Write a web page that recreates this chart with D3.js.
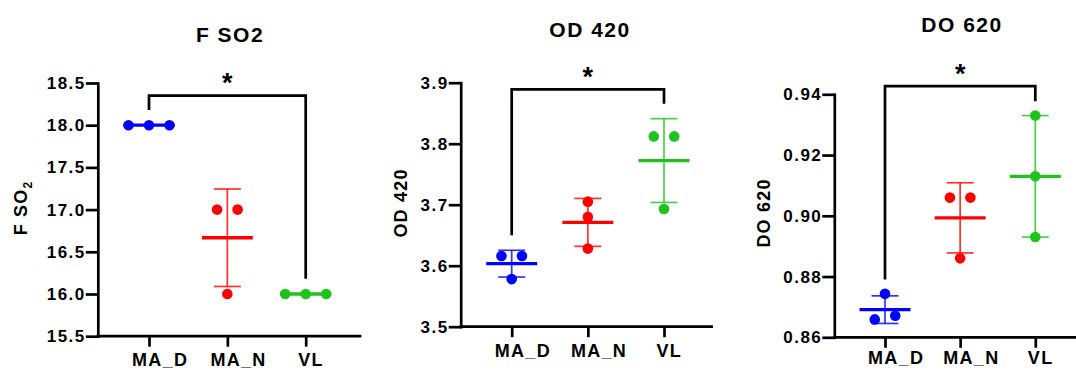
<!DOCTYPE html>
<html>
<head>
<meta charset="utf-8">
<script src="https://cdn.jsdelivr.net/npm/d3@7"></script>
<style>
  body { margin: 0; background: #fff; }
  svg { display: block; font-family: "Liberation Sans", Arial, sans-serif; }
</style>
</head>
<body>
<div class="chart"></div>
<script>
// data
const categories = ["MA_D", "MA_N", "VL"];
const groupColors = ["#0000ff", "#ff0000", "#1fc21f"];

const fso2Values = [[18, 18, 18], [17, 17, 16], [16, 16, 16]];
const od420Values = [[3.616, 3.616, 3.578], [3.705, 3.680, 3.628], [3.812, 3.812, 3.693]];
const do620Values = [[0.8743, 0.8659, 0.8671], [0.906, 0.906, 0.886], [0.933, 0.913, 0.893]];

const fso2Ticks = [15.5, 16, 16.5, 17, 17.5, 18, 18.5];
const od420Ticks = [3.5, 3.6, 3.7, 3.8, 3.9];
const do620Ticks = [0.86, 0.88, 0.90, 0.92, 0.94];

const fso2Bracket = { from: "MA_D", to: "VL", top: 18.35, label: "*" };
const od420Bracket = { from: "MA_D", to: "VL", top: 3.889, label: "*" };
const do620Bracket = { from: "MA_D", to: "VL", top: 0.9427, label: "*" };

// layout of the three panels
const panels = [
  { title: "F SO2", yTitle: ["F SO", "2"], values: fso2Values, ticks: fso2Ticks, fmt: ".1f", bracket: fso2Bracket,
    axisX: 97.8, xFirst: 149, xLast: 305.7, xRight: 360, yTop: 83, yBottom: 336.2, xPad: 7,
    titleX: 230, titleY: 41.7, yTitleX: 27, yTitleY: 208, gap: 10 },
  { title: "OD 420", yTitle: ["OD 420"], values: od420Values, ticks: od420Ticks, fmt: ".1f", bracket: od420Bracket,
    axisX: 460.7, xFirst: 511.7, xLast: 664, xRight: 711.7, yTop: 82.7, yBottom: 326.7, xPad: 7,
    titleX: 590, titleY: 36.7, yTitleX: 406.5, yTitleY: 203, gap: 15 },
  { title: "DO 620", yTitle: ["DO 620"], values: do620Values, ticks: do620Ticks, fmt: ".2f", bracket: do620Bracket,
    axisX: 834.3, xFirst: 885, xLast: 1035.3, xRight: 1076, yTop: 94.3, yBottom: 337.3, xPad: 3.5,
    titleX: 962, titleY: 32.3, yTitleX: 770, yTitleY: 213, gap: 9 }
];

const w = 1076, h = 370, r = 5.3, pitch = 20.5;

const svg = d3.select(".chart").append("svg").attr("width", w).attr("height", h);

panels.forEach(p => {
  const g = svg.append("g");
  const y = d3.scaleLinear().domain(d3.extent(p.ticks)).range([p.yBottom, p.yTop]);
  const x = d3.scalePoint().domain(categories).range([p.xFirst, p.xLast]);

  // title
  g.append("text")
    .attr("x", p.titleX).attr("y", p.titleY)
    .attr("text-anchor", "middle")
    .style("font-weight", "bold").style("font-size", "21px").style("letter-spacing", "1.5px")
    .text(p.title);

  // y title
  const yt = g.append("text")
    .attr("transform", "translate(" + p.yTitleX + "," + p.yTitleY + ") rotate(-90)")
    .attr("text-anchor", "middle")
    .style("font-weight", "bold").style("font-size", "18px").style("letter-spacing", "1.2px");
  yt.append("tspan").text(p.yTitle[0]);
  if (p.yTitle[1]) {
    yt.append("tspan").attr("dy", 5).style("font-size", "12px").text(p.yTitle[1]);
  }

  // y axis
  const yAxis = g.append("g")
    .attr("transform", "translate(" + p.axisX + ",0)")
    .call(d3.axisLeft(y).tickValues(p.ticks).tickFormat(d3.format(p.fmt)).tickSize(12).tickSizeOuter(0).tickPadding(0));
  yAxis.select(".domain").attr("stroke-width", 2.7).attr("stroke-linecap", "square");
  yAxis.selectAll(".tick line").attr("stroke-width", 2.7);
  yAxis.selectAll(".tick text")
    .style("font-size", "17px").style("font-weight", "bold").style("letter-spacing", "1.5px")
    .attr("fill", "#000");

  // x axis
  const xAxis = g.append("g")
    .attr("transform", "translate(0," + p.yBottom + ")")
    .call(d3.axisBottom(x).tickSize(10.5).tickPadding(p.xPad));
  xAxis.select(".domain").remove();
  xAxis.selectAll(".tick line").attr("stroke-width", 2.7);
  xAxis.selectAll(".tick text")
    .style("font-size", "18px").style("font-weight", "bold").style("letter-spacing", "1.3px")
    .attr("fill", "#000")
    .attr("dx", function () { return 0.19 * this.getComputedTextLength(); });
  xAxis.append("line")
    .attr("x1", p.axisX).attr("x2", p.xRight)
    .attr("stroke", "#000").attr("stroke-width", 2.7).attr("stroke-linecap", "square");

  // groups
  const groupTop = {};
  p.values.forEach((vals, gi) => {
    const cat = categories[gi];
    const cx = x(cat);
    const color = groupColors[gi];
    const mean = d3.mean(vals);
    const sd = d3.deviation(vals);

    // spread points that overlap vertically
    const pts = vals.map((v, i) => ({ v, i, py: y(v) }));
    const sorted = pts.slice().sort((a, b) => a.py - b.py);
    const clusters = [];
    sorted.forEach(pt => {
      const last = clusters[clusters.length - 1];
      if (last && Math.abs(pt.py - last[last.length - 1].py) < 2 * r) last.push(pt);
      else clusters.push([pt]);
    });
    clusters.forEach(c => {
      c.sort((a, b) => a.i - b.i);
      c.forEach((pt, k) => { pt.dx = (k - (c.length - 1) / 2) * pitch; });
    });

    // error bar
    const eg = g.append("g").attr("stroke", color).attr("stroke-opacity", 0.8).attr("stroke-width", 1.7);
    eg.append("line").attr("x1", cx).attr("x2", cx).attr("y1", y(mean + sd)).attr("y2", y(mean - sd));
    [mean + sd, mean - sd].forEach(v => {
      eg.append("line").attr("x1", cx - 13.5).attr("x2", cx + 13.5).attr("y1", y(v)).attr("y2", y(v));
    });

    // mean line
    g.append("line")
      .attr("x1", cx - 25.5).attr("x2", cx + 25.5)
      .attr("y1", y(mean)).attr("y2", y(mean))
      .attr("stroke", color).attr("stroke-width", 3.3);

    // points
    g.selectAll(null).data(pts).enter().append("circle")
      .attr("cx", d => cx + d.dx).attr("cy", d => d.py).attr("r", r)
      .attr("fill", color);

    groupTop[cat] = Math.min(d3.min(pts, d => d.py - r), y(mean + sd));
  });

  // significance bracket
  const b = p.bracket;
  const by = y(b.top);
  const bx1 = x(b.from), bx2 = x(b.to);
  g.append("path")
    .attr("d", d3.line()([[bx1, groupTop[b.from] - p.gap], [bx1, by], [bx2, by], [bx2, groupTop[b.to] - p.gap]]))
    .attr("fill", "none").attr("stroke", "#000").attr("stroke-width", 2.7);
  g.append("text")
    .attr("x", (bx1 + bx2) / 2).attr("y", by - 3.5)
    .attr("text-anchor", "middle")
    .style("font-size", "27px").style("font-weight", "bold")
    .text(b.label);
});
</script>
</body>
</html>
